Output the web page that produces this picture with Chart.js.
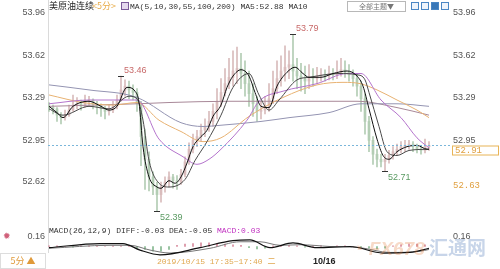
<!DOCTYPE html>
<html lang="zh">
<head>
    <meta charset="UTF-8">
    <script src="https://cdn.jsdelivr.net/npm/chart.js"></script>
    <title>美原油连续 5分</title>
    <style>
        body {
            margin: 0;
            width: 500px;
            height: 269px;
            overflow: hidden;
            background: #fff;
            position: relative;
            font-family: "Liberation Sans", Arial, sans-serif;
        }
        canvas { position: absolute; left: 0; }
        #main { top: 0; }
        #macd { top: 222px; }
        .lbl { position: absolute; white-space: nowrap; line-height: 11px; }
        .mono { font-family: "Liberation Mono", "DejaVu Sans Mono", monospace; font-size: 8px; }
        .cjk { font-family: "Noto Sans CJK SC", sans-serif; }
        .vline { position: absolute; left: 48px; top: 0; width: 1px; height: 253px; background: #dadada; }
        .btn { position: absolute; left: 347px; top: 1px; width: 57px; height: 9px; border: 1px solid #b8b8b8;
               font-size: 7px; line-height: 9px; text-align: center; color: #777; }
        .ico { position: absolute; top: 2px; width: 6px; height: 6px; border: 1px solid #4a86c4; background: #eef4fb; }
        .ico.on { background: #3a78b8; }
        .period { position: absolute; left: 0; top: 253px; width: 44px; height: 14px; border: 1px solid #ddd;
                  font-size: 9px; line-height: 14px; color: #e09a3a; text-align: center; }
        .wm { position: absolute; left: 352px; top: 233px; font-size: 19px; font-weight: bold; font-style: italic;
              opacity: 0.28; white-space: nowrap; }
    </style>
</head>
<body>
    <div class="vline"></div>
    <canvas id="main" width="500" height="224"></canvas>
    <canvas id="macd" width="500" height="40"></canvas>

    <!-- header -->
    <div class="lbl cjk" style="left:49px;top:0;font-size:9px;color:#222">美原油连续</div>
    <div class="lbl cjk" style="left:92px;top:0;font-size:9px;color:#e8ac4a">&lt;5分&gt;</div>
    <div class="lbl" style="left:121px;top:2px;width:6px;height:6px;border:1px solid #7a5a9a;background:#e4d8ee"></div>
    <div class="lbl mono" style="left:130px;top:1px;color:#333">MA(5,10,30,55,100,200) MA5:52.88 MA10</div>
    <div class="btn cjk">全部主题▼</div>
    <div class="ico" style="left:411px"></div>
    <div class="ico" style="left:421px"></div>
    <div class="ico on" style="left:431px"></div>
    <div class="ico" style="left:441px"></div>

    <!-- macd header -->
    <div class="lbl" style="left:3px;top:231px;font-size:9px;color:#d0607a">✹</div>
    <div class="lbl mono" style="left:49px;top:225px;color:#333">MACD(26,12,9) DIFF:-0.03 DEA:-0.05 <span style="color:#c030c0">MACD:0.03</span></div>

    <!-- bottom bar -->
    <div class="period cjk">5分 ▲</div>
    <div class="lbl mono" style="left:157px;top:255px;color:#e0a850">2019/10/15 17:35~17:40 <span class="cjk">二</span></div>
    <div class="lbl" style="left:313px;top:256px;font-size:9px;font-weight:bold;color:#222">10/16</div>

    <div class="wm"><span style="color:#e07a3a">◔ FX678</span><span class="cjk" style="color:#3a6ab0;font-style:normal"> 汇通网</span></div>

    <script>
        // axis ticks
        const yTicks = [53.96, 53.62, 53.29, 52.95, 52.62];
        const macdTicks = [0.16];
        const lastPrice = 52.91;

        // 5 minute candles, index 0..95
        const opens = [
            53.22,53.21,53.20,53.15,53.13,53.15,53.19,53.23,53.24,53.22,
            53.26,53.27,53.24,53.22,53.20,53.18,53.19,53.22,53.27,53.35,
            53.38,53.35,53.33,53.24,52.98,52.80,52.66,52.58,52.52,52.58,
            52.62,52.66,52.63,52.62,52.68,52.78,52.88,52.95,52.98,53.03,
            53.06,53.10,53.18,53.26,53.33,53.40,53.45,53.50,53.52,53.48,
            53.40,53.32,53.24,53.18,53.19,53.22,53.28,53.36,53.44,53.50,
            53.53,53.55,53.50,53.46,53.44,53.42,53.45,53.44,53.46,53.47,
            53.46,53.48,53.47,53.49,53.51,53.49,53.47,53.44,53.38,53.28,
            53.10,52.95,52.84,52.80,52.78,52.80,52.83,52.86,52.88,52.90,
            52.91,52.92,52.90,52.88,52.87,52.90
        ];
        const highs = [
            53.25,53.23,53.21,53.17,53.19,53.23,53.31,53.29,53.27,53.31,
            53.30,53.28,53.26,53.24,53.22,53.23,53.26,53.31,53.46,53.43,
            53.42,53.39,53.36,53.26,53.04,52.86,52.70,52.62,52.62,52.66,
            52.70,52.68,52.67,52.72,52.82,52.93,53.00,53.03,53.08,53.12,
            53.18,53.24,53.36,53.44,53.52,53.60,53.66,53.69,53.64,53.58,
            53.50,53.40,53.30,53.26,53.30,53.40,53.50,53.58,53.62,53.70,
            53.66,53.79,53.60,53.56,53.54,53.55,53.52,53.53,53.52,53.51,
            53.54,53.52,53.58,53.60,53.58,53.55,53.51,53.48,53.42,53.32,
            53.14,52.98,52.88,52.84,52.84,52.87,52.90,52.92,52.94,52.95,
            52.95,52.94,52.92,52.91,52.96,52.94
        ];
        const lows = [
            53.18,53.16,53.10,53.08,53.11,53.14,53.18,53.20,53.19,53.21,
            53.22,53.20,53.16,53.14,53.12,53.15,53.17,53.20,53.26,53.30,
            53.28,53.27,53.18,52.75,52.56,52.55,52.52,52.39,52.46,52.54,
            52.58,52.57,52.56,52.60,52.66,52.76,52.85,52.90,52.94,52.98,
            53.02,53.06,53.12,53.22,53.30,53.36,53.38,53.40,53.36,53.30,
            53.22,53.14,53.10,53.12,53.16,53.18,53.24,53.32,53.38,53.42,
            53.44,53.42,53.36,53.34,53.32,53.36,53.38,53.40,53.42,53.42,
            53.43,53.43,53.44,53.46,53.45,53.42,53.38,53.30,53.18,53.00,
            52.86,52.76,52.74,52.74,52.71,52.77,52.80,52.83,52.85,52.86,
            52.88,52.86,52.85,52.84,52.85,52.87
        ];
        const closes = [
            53.21,53.20,53.15,53.13,53.15,53.19,53.23,53.24,53.22,53.26,
            53.27,53.24,53.22,53.20,53.18,53.19,53.22,53.27,53.35,53.38,
            53.35,53.33,53.24,52.98,52.80,52.66,52.58,52.52,52.58,52.62,
            52.66,52.63,52.62,52.68,52.78,52.88,52.95,52.98,53.03,53.06,
            53.10,53.18,53.26,53.33,53.40,53.45,53.50,53.52,53.48,53.40,
            53.32,53.24,53.18,53.19,53.22,53.28,53.36,53.44,53.50,53.53,
            53.55,53.50,53.46,53.44,53.42,53.45,53.44,53.46,53.47,53.46,
            53.48,53.47,53.49,53.51,53.49,53.47,53.44,53.38,53.28,53.10,
            52.95,52.84,52.80,52.78,52.80,52.83,52.86,52.88,52.90,52.91,
            52.92,52.90,52.88,52.87,52.90,52.91
        ];
        // marked extremes (candle index)
        const peakIdx = [18, 61];
        const troughIdx = [27, 84];

        // moving averages (candle index, price)
        const ma5X = [0,2,3.5,6,10,13,15,17,19.5,21.5,22.5,23.5,25,27,28,30,31.5,33,34.5,36,38,39.5,41,43,44.5,46,48,50,51.5,53,55,57,59.5,61.5,63.5,65,68,71,74.5,77,78.5,80,82,83.5,85,87,89.5,92,94.5,95];
        const ma5 = [53.22,53.17,53.13,53.22,53.26,53.22,53.19,53.22,53.37,53.34,53.25,52.90,52.66,52.58,52.57,52.63,52.61,52.66,52.77,52.90,52.98,53.03,53.14,53.23,53.37,53.46,53.51,53.46,53.33,53.22,53.21,53.38,53.49,53.53,53.48,53.45,53.45,53.48,53.50,53.46,53.38,53.20,52.96,52.83,52.80,52.86,52.90,52.91,52.88,52.88];
        const ma10X = [0,3.5,10,15,20,22,23.5,25,27.5,30,34,36.5,39.5,43,46,50,52.5,55,57.5,62,65,72.5,77,79,80,82.5,84.5,87,90,95];
        const ma10 = [53.20,53.15,53.22,53.20,53.30,53.28,53.11,52.79,52.61,52.58,52.64,52.79,52.94,53.15,53.37,53.48,53.31,53.19,53.27,53.43,53.45,53.48,53.47,53.43,53.33,53.06,52.86,52.83,52.87,52.88];
        const ma30X = [0,10,22,27.5,33.5,37,40,43,49.5,52.5,58.5,67,74.5,78,83,88,92,95];
        const ma30 = [53.24,53.27,53.27,52.96,52.82,52.76,52.80,52.88,53.11,53.26,53.34,53.40,53.48,53.48,53.27,53.13,52.97,52.89];
        const ma55X = [0,8.5,16,22,27.5,33,38.5,43,50,58.5,67,73.5,77.75,82,87,92,95];
        const ma55 = [53.31,53.25,53.23,53.25,53.11,53.02,52.94,52.97,53.14,53.29,53.39,53.41,53.40,53.35,53.27,53.19,53.13];
        const ma100X = [0,10,22,33,38.5,43,53,60,70,78,87,95];
        const ma100 = [53.39,53.35,53.29,53.09,53.06,53.07,53.10,53.13,53.17,53.24,53.24,53.22];
        const ma200X = [0,22,30,45,60,77,87,95];
        const ma200 = [53.22,53.24,53.25,53.26,53.26,53.26,53.21,53.15];

        // MACD panel
        const diffX = [0,12.75,18.5,22.75,27.75,37.75,46,50.25,55.25,61,67,75.25,83.5,90.25,95];
        const diff = [-0.02,0.05,0.05,-0.06,-0.14,-0.02,0.10,0.11,-0.02,0.06,-0.02,0.00,-0.11,-0.10,-0.03];
        const deaX = [0,15.25,20.25,25.25,30.25,40.25,47.75,52.75,57.75,62.75,70.25,77.75,85.25,92.75,95];
        const dea = [-0.03,0.02,0.02,-0.06,-0.11,-0.03,0.08,0.08,0.02,0.03,0.00,-0.02,-0.10,-0.08,-0.05];
        // histogram, one bar every second candle
        const hist = [
            0.01,0.01,0.00,-0.01,0.01,0.01,0.01,0.00,0.01,0.01,0.02,
            -0.02,-0.05,-0.08,-0.08,-0.05,0.02,0.04,0.05,0.06,0.06,0.05,0.04,0.03,0.02,
            -0.02,-0.04,-0.03,0.01,0.02,0.02,0.01,-0.01,0.01,0.01,0.00,0.01,0.01,0.00,
            -0.01,-0.03,-0.04,-0.03,0.01,0.03,0.04,0.04,0.03
        ];

        const pts = (xs, ys) => xs.map((x, i) => ({ x: x, y: ys[i] }));
        const upCol = '#d9bcbc', downCol = '#b3cdb4';
        const candleCol = closes.map((c, i) => c >= opens[i] ? upCol : downCol);

        function maLine(label, xs, ys, color, order) {
            return {
                type: 'line', label: label, data: pts(xs, ys),
                borderColor: color, borderWidth: 1, pointRadius: 0,
                cubicInterpolationMode: 'monotone', order: order
            };
        }

        const tickFont = { family: 'Liberation Sans', size: 9 };
        function sideAxis(pos, width, min, max, ticks) {
            return {
                position: pos, min: min, max: max,
                grid: { display: false, drawTicks: false }, border: { display: false },
                ticks: { font: tickFont, color: '#555', padding: 3, callback: v => v.toFixed(2) },
                afterBuildTicks: s => { s.ticks = ticks.map(v => ({ value: v })); },
                afterFit: s => { s.width = width; s.paddingTop = 0; s.paddingBottom = 0; }
            };
        }
        const xAxis = { type: 'linear', min: -0.25, max: 100.25, offset: false, display: false };

        // y = 13px at 53.96, 126.1px per 1.00
        const yMax = 53.96 + 10 / 126.1, yMin = 53.96 - 205 / 126.1;

        const extras = {
            id: 'extras',
            afterDatasetsDraw(chart) {
                const { ctx, chartArea, scales: { x, y } } = chart;
                ctx.save();
                // last price dashed line and box
                const py = Math.round(y.getPixelForValue(lastPrice)) + 0.5;
                ctx.strokeStyle = '#7ab6da';
                ctx.setLineDash([2, 2]);
                ctx.beginPath(); ctx.moveTo(chartArea.left, py); ctx.lineTo(452, py); ctx.stroke();
                ctx.setLineDash([]);
                ctx.strokeStyle = '#e8b456';
                ctx.strokeRect(452.5, py + 0.5, 46, 9);
                ctx.font = '9px "Liberation Mono"';
                ctx.fillStyle = '#e0a040';
                ctx.textBaseline = 'middle';
                ctx.fillText(lastPrice.toFixed(2), 455, py + 5.5);
                ctx.fillText('52.63', 453, y.getPixelForValue(52.62) + 4);

                ctx.font = '9px "Liberation Sans"';
                ctx.strokeStyle = '#333';
                peakIdx.forEach(i => {
                    const mx = x.getPixelForValue(i), my = Math.round(y.getPixelForValue(highs[i])) + 0.5;
                    ctx.beginPath(); ctx.moveTo(mx - 3, my); ctx.lineTo(mx + 3, my); ctx.stroke();
                    ctx.fillStyle = '#c86a6a';
                    ctx.textBaseline = 'bottom';
                    ctx.fillText(highs[i].toFixed(2), mx + 3, my - 1);
                });
                troughIdx.forEach(i => {
                    const mx = x.getPixelForValue(i), my = Math.round(y.getPixelForValue(lows[i])) + 0.5;
                    ctx.beginPath(); ctx.moveTo(mx - 3, my); ctx.lineTo(mx + 3, my); ctx.stroke();
                    ctx.fillStyle = '#5a9a62';
                    ctx.textBaseline = 'top';
                    ctx.fillText(lows[i].toFixed(2), mx + 3, my + 2);
                });
                ctx.restore();
            }
        };

        new Chart(document.getElementById('main'), {
            data: {
                datasets: [
                    {
                        type: 'bar', label: 'wick', grouped: false, order: 10,
                        data: lows.map((l, i) => ({ x: i, y: [l, highs[i]] })),
                        backgroundColor: candleCol, barThickness: 1
                    },
                    {
                        type: 'bar', label: 'body', grouped: false, order: 9,
                        data: opens.map((o, i) => ({ x: i, y: [o, closes[i]] })),
                        backgroundColor: candleCol, barThickness: 2, minBarLength: 1
                    },
                    maLine('MA200', ma200X, ma200, '#a88898', 6),
                    maLine('MA100', ma100X, ma100, '#9494b2', 5),
                    maLine('MA55', ma55X, ma55, '#e8b272', 4),
                    maLine('MA30', ma30X, ma30, '#b474cc', 3),
                    maLine('MA10', ma10X, ma10, '#4a4a4a', 2),
                    maLine('MA5', ma5X, ma5, '#111111', 1)
                ]
            },
            options: {
                responsive: false,
                animation: false,
                layout: { padding: { top: 3, bottom: 6, left: 0, right: 0 } },
                plugins: { legend: { display: false }, tooltip: { enabled: false } },
                scales: {
                    x: xAxis,
                    y: sideAxis('left', 48, yMin, yMax, yTicks),
                    y2: sideAxis('right', 50, yMin, yMax, yTicks.slice(0, 4))
                }
            },
            plugins: [extras]
        });

        // MACD: 0.16 at y=237, zero at y=246.5 (absolute)
        const mPx = 9.5 / 0.16;
        const mMax = 0.16 + 5 / mPx, mMin = -11.5 / mPx;
        new Chart(document.getElementById('macd'), {
            data: {
                datasets: [
                    {
                        type: 'bar', label: 'MACD', grouped: false, order: 5,
                        data: hist.map((v, k) => ({ x: k * 2, y: v })),
                        backgroundColor: hist.map(v => v >= 0 ? '#d88c9e' : '#86b890'),
                        barThickness: 1
                    },
                    {
                        type: 'line', label: 'DEA', data: pts(deaX, dea), borderColor: '#777',
                        borderWidth: 1, pointRadius: 0, cubicInterpolationMode: 'monotone', order: 2
                    },
                    {
                        type: 'line', label: 'DIFF', data: pts(diffX, diff), borderColor: '#111',
                        borderWidth: 1.2, pointRadius: 0, cubicInterpolationMode: 'monotone', order: 1
                    }
                ]
            },
            options: {
                responsive: false,
                animation: false,
                layout: { padding: { top: 10, bottom: 4, left: 0, right: 0 } },
                plugins: { legend: { display: false }, tooltip: { enabled: false } },
                scales: {
                    x: xAxis,
                    y: sideAxis('left', 48, mMin, mMax, macdTicks),
                    y2: sideAxis('right', 50, mMin, mMax, macdTicks)
                }
            }
        });
    </script>
</body>
</html>
